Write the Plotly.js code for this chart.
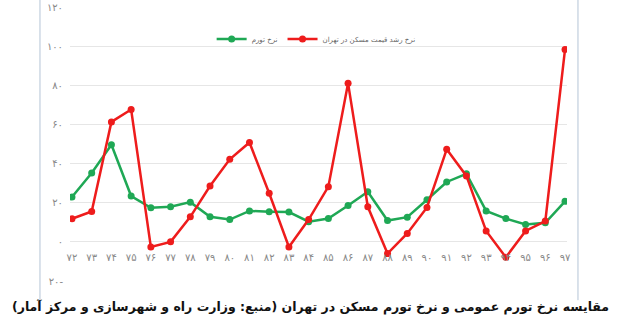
<!DOCTYPE html>
<html>
<head>
<meta charset="utf-8">
<script src="https://cdn.plot.ly/plotly-3.0.1.min.js"></script>
<style>html,body{margin:0;padding:0;background:#fff;}#chart{width:620px;height:330px;}</style>
</head>
<body>
<div id="chart"></div>
<script>
const years = ['۷۲','۷۳','۷۴','۷۵','۷۶','۷۷','۷۸','۷۹','۸۰','۸۱','۸۲','۸۳','۸۴','۸۵','۸۶','۸۷','۸۸','۸۹','۹۰','۹۱','۹۲','۹۳','۹۴','۹۵','۹۶','۹۷'];
const inflation = [22.9,35.2,49.6,23.4,17.4,17.9,20.3,12.8,11.4,15.8,15.4,15.2,10.3,11.9,18.6,25.6,10.9,12.6,21.5,30.6,34.8,15.8,11.9,8.9,9.7,20.7];
const housing = [11.8,15.5,61.3,67.6,-2.6,0,12.8,28.5,42.2,50.8,24.8,-2.6,11.4,28.2,81,17.9,-6,4.3,17.6,47.3,33.7,5.6,-7.9,5.6,10.6,98.3];
const yTickVals = [-20,0,20,40,60,80,100,120];
const yTickText = ['۲۰-','۰','۲۰','۴۰','۶۰','۸۰','۱۰۰','۱۲۰'];
const seriesNames = ['نرخ تورم','نرخ رشد قیمت مسکن در تهران'];
const caption = 'مقایسه نرخ تورم عمومی و نرخ تورم مسکن در تهران (منبع: وزارت راه و شهرسازی و مرکز آمار)';

const traces = [
  {x: years, y: inflation, name: seriesNames[0], type: 'scatter', mode: 'lines+markers',
   line: {color: '#1fa855', width: 2.5}, marker: {color: '#1fa855', size: 7}},
  {x: years, y: housing, name: seriesNames[1], type: 'scatter', mode: 'lines+markers',
   line: {color: '#ee1c1c', width: 2.5}, marker: {color: '#ee1c1c', size: 7}}
];

const frameColor = '#b4c4d6';
const layout = {
  width: 620, height: 330,
  margin: {l: 70, r: 53, t: 7, b: 49},
  paper_bgcolor: '#fff', plot_bgcolor: '#fff',
  font: {family: 'DejaVu Sans, sans-serif'},
  showlegend: true,
  legend: {orientation: 'h', x: 0.285, y: 0.883, xanchor: 'left', yanchor: 'middle',
    font: {size: 7, color: '#666'}, bgcolor: 'rgba(0,0,0,0)', itemwidth: 30, tracegroupgap: 0},
  xaxis: {type: 'category', range: [-0.1, 25.1], anchor: 'free', position: 20/140,
    showgrid: false, zeroline: false, showline: false, ticks: '', ticklabelstandoff: 8,
    tickfont: {size: 10, color: '#888'}, fixedrange: true},
  yaxis: {range: [-20, 120], tickvals: yTickVals, ticktext: yTickText,
    showgrid: true, gridcolor: '#e6e6e6', gridwidth: 1, zeroline: false, showline: false,
    ticks: '', tickfont: {size: 10, color: '#888'}, ticklabelstandoff: 6, fixedrange: true},
  shapes: [
    {type: 'line', xref: 'paper', yref: 'paper', x0: -0.0604, x1: -0.0604, y0: -0.07, y1: 1.03,
     line: {color: frameColor, width: 1}, layer: 'above'},
    {type: 'line', xref: 'paper', yref: 'paper', x0: 1.0221, x1: 1.0221, y0: -0.07, y1: 1.03,
     line: {color: frameColor, width: 1}, layer: 'above'}
  ],
  annotations: [
    {text: '<b>' + caption + '</b>', xref: 'paper', yref: 'paper', x: 0.483, y: -0.095,
     xanchor: 'center', yanchor: 'middle', showarrow: false,
     font: {size: 12.5, color: '#111', family: 'DejaVu Sans, sans-serif'}}
  ]
};

Plotly.newPlot('chart', traces, layout, {displayModeBar: false, staticPlot: true});
</script>
</body>
</html>
